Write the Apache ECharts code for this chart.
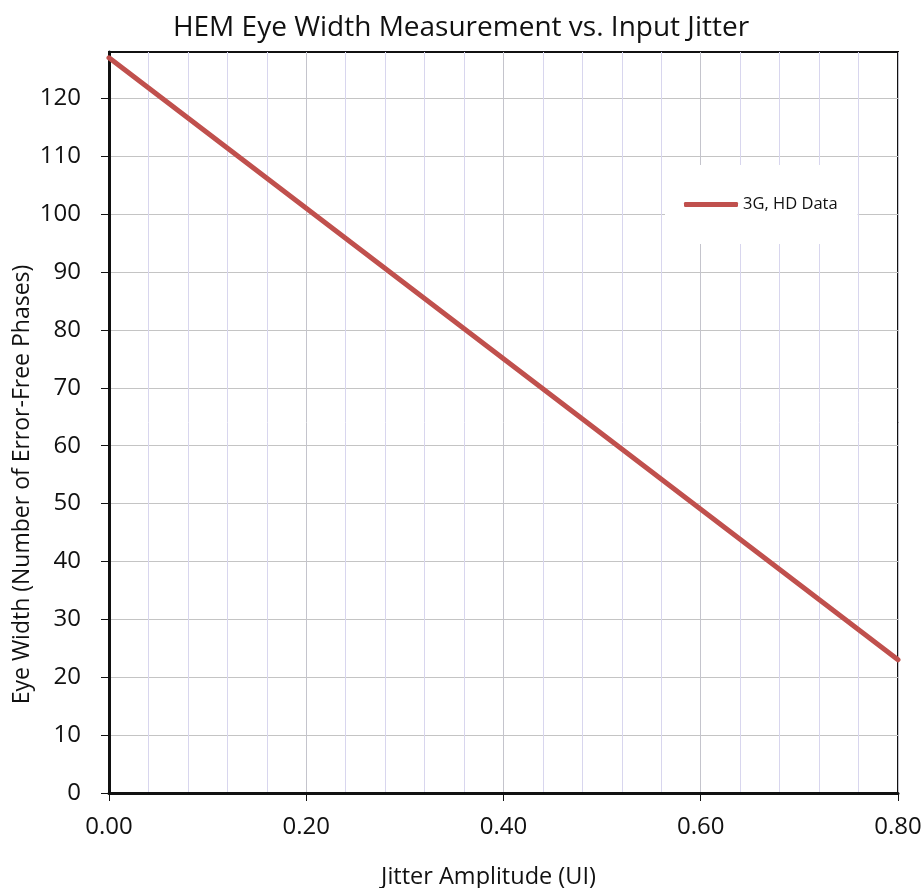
<!DOCTYPE html>
<html>
<head>
<meta charset="utf-8">
<script src="https://cdn.jsdelivr.net/npm/echarts@6/dist/echarts.min.js"></script>
<style>
  html, body { margin: 0; padding: 0; background: #fff; }
  #chart { width: 922px; height: 888px; }
</style>
</head>
<body>
<div id="chart"></div>
<script>
// data
const jitter = [0, 0.2, 0.4, 0.6, 0.8]
const eyeWidth = [127, 101, 75, 49, 23]
const yTicks = [0, 10, 20, 30, 40, 50, 60, 70, 80, 90, 100, 110, 120]

const font = '"Open Sans", "Noto Sans", sans-serif'
const chart = echarts.init(document.getElementById('chart'))

chart.setOption({
  animation: false,
  title: {
    text: 'HEM Eye Width Measurement vs. Input Jitter',
    left: 'center', top: 9,
    textStyle: { fontFamily: font, fontSize: 28, fontWeight: 'normal', color: '#111' }
  },
  legend: {
    data: [{ name: '3G, HD Data', icon: 'roundRect' }],
    left: 665, top: 165,
    padding: [31, 20, 31, 19],
    backgroundColor: '#fff',
    itemWidth: 54, itemHeight: 5,
    textStyle: { fontFamily: font, fontSize: 16.5, color: '#111' }
  },
  grid: {
    left: 109, right: 24, top: 52, bottom: 95,
    outerBoundsMode: 'none', containLabel: false,
    show: true, borderColor: '#111', borderWidth: 2, backgroundColor: 'transparent'
  },
  xAxis: {
    type: 'value', min: 0, max: 0.8, interval: 0.2,
    name: 'Jitter Amplitude (UI)', nameLocation: 'middle', nameGap: 72,
    nameTextStyle: { fontFamily: font, fontSize: 23.5, color: '#111', padding: [0, 30, 0, 0] },
    axisLine: { show: true, onZero: false, lineStyle: { color: '#111', width: 3 } },
    axisTick: { show: true, length: 8, lineStyle: { color: '#111', width: 1 } },
    axisLabel: {
      fontFamily: font, fontSize: 24, color: '#111', margin: 22,
      formatter: v => v.toFixed(2)
    },
    splitLine: { show: true, lineStyle: { color: '#c4c4cc', width: 1 } },
    minorTick: { show: false, splitNumber: 5 },
    minorSplitLine: { show: true, lineStyle: { color: '#d8d6ee', width: 1 } }
  },
  yAxis: {
    type: 'value', min: 0, max: 128, interval: 10,
    name: 'Eye Width (Number of Error-Free Phases)', nameLocation: 'middle', nameGap: 75,
    nameMoveOverlap: false,
    nameTextStyle: { fontFamily: font, fontSize: 23, color: '#111', padding: [0, 124, 0, 0] },
    axisLine: { show: true, lineStyle: { color: '#111', width: 3 } },
    axisTick: { show: true, length: 8, customValues: yTicks, lineStyle: { color: '#111', width: 1 } },
    axisLabel: { fontFamily: font, fontSize: 24, color: '#111', margin: 28, customValues: yTicks },
    splitLine: { show: true, lineStyle: { color: '#c4c4c4', width: 1 } }
  },
  series: [{
    name: '3G, HD Data',
    type: 'line',
    data: jitter.map((x, i) => [x, eyeWidth[i]]),
    symbol: 'none',
    lineStyle: { color: '#c0504d', width: 5, cap: 'round' },
    itemStyle: { color: '#c0504d' },
    z: 3
  }]
})
</script>
</body>
</html>
